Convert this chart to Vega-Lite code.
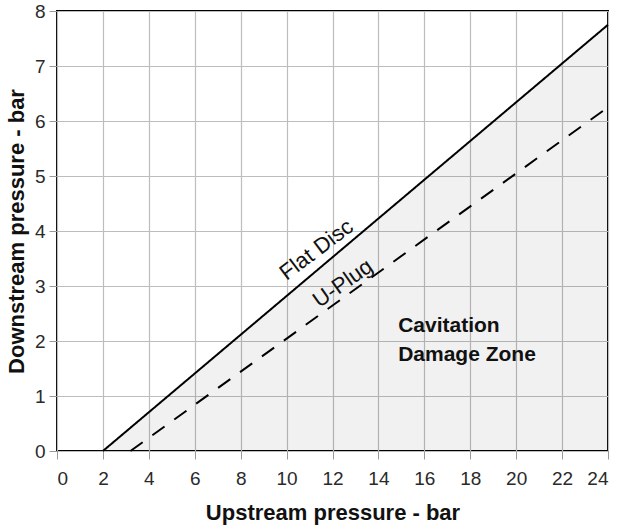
{
  "$schema": "https://vega.github.io/schema/vega-lite/v6.json",
  "width": 551,
  "height": 440,
  "autosize": {"type": "none"},
  "padding": {"left": 57, "top": 11, "right": 13, "bottom": 80},
  "background": "white",
  "config": {
    "font": "Liberation Sans",
    "view": {"stroke": "black", "strokeWidth": 2},
    "axis": {
      "gridColor": "#bdbdbd",
      "gridWidth": 1.2,
      "domainColor": "black",
      "domainWidth": 2,
      "tickColor": "#999999",
      "tickSize": 8,
      "labelFont": "Liberation Sans",
      "labelFontSize": 19,
      "labelColor": "#2a2a2a",
      "titleFont": "Liberation Sans",
      "titleFontSize": 22,
      "titleFontWeight": "bold",
      "titleColor": "#111111"
    }
  },
  "datasets": {
    "lines": [
      {"series": "Flat Disc", "x": 2, "y": 0},
      {"series": "Flat Disc", "x": 24, "y": 7.75},
      {"series": "U-Plug", "x": 3.2, "y": 0},
      {"series": "U-Plug", "x": 24, "y": 6.25}
    ],
    "labels": [
      {"text": "Flat Disc", "x": 11.3, "y": 3.66, "angle": -37},
      {"text": "U-Plug", "x": 12.45, "y": 3.05, "angle": -35}
    ],
    "zone": [
      {"text": "Cavitation", "x": 14.86, "y": 2.27},
      {"text": "Damage Zone", "x": 14.86, "y": 1.745}
    ]
  },
  "layer": [
    {
      "data": {"name": "lines"},
      "transform": [{"filter": "datum.series === 'Flat Disc'"}],
      "mark": {"type": "area", "fill": "black", "fillOpacity": 0.055},
      "encoding": {
        "x": {
          "field": "x", "type": "quantitative",
          "scale": {"domain": [0, 24], "nice": false},
          "axis": {
            "title": "Upstream pressure - bar",
            "values": [0, 2, 4, 6, 8, 10, 12, 14, 16, 18, 20, 22, 24],
            "labelPadding": 10,
            "titlePadding": 14,
            "domain": false
          }
        },
        "y": {
          "field": "y", "type": "quantitative",
          "scale": {"domain": [0, 8], "nice": false},
          "axis": {
            "title": "Downstream pressure - bar",
            "values": [0, 1, 2, 3, 4, 5, 6, 7, 8],
            "labelPadding": 4,
            "titlePadding": 6,
            "domain": false
          }
        }
      }
    },
    {
      "data": {"name": "lines"},
      "mark": {"type": "line", "color": "black", "strokeWidth": 2},
      "encoding": {
        "x": {"field": "x", "type": "quantitative"},
        "y": {"field": "y", "type": "quantitative"},
        "detail": {"field": "series"},
        "strokeDash": {
          "field": "series", "type": "nominal",
          "scale": {"domain": ["Flat Disc", "U-Plug"], "range": [[1, 0], [15, 12]]},
          "legend": null
        }
      }
    },
    {
      "data": {"name": "labels"},
      "mark": {"type": "text", "fontSize": 22, "color": "#111111", "align": "center", "baseline": "middle"},
      "encoding": {
        "x": {"field": "x", "type": "quantitative"},
        "y": {"field": "y", "type": "quantitative"},
        "text": {"field": "text"},
        "angle": {"field": "angle", "type": "quantitative", "scale": null}
      }
    },
    {
      "data": {"name": "zone"},
      "mark": {"type": "text", "fontSize": 21, "fontWeight": "bold", "color": "#111111", "align": "left", "baseline": "middle"},
      "encoding": {
        "x": {"field": "x", "type": "quantitative"},
        "y": {"field": "y", "type": "quantitative"},
        "text": {"field": "text"}
      }
    }
  ]
}
